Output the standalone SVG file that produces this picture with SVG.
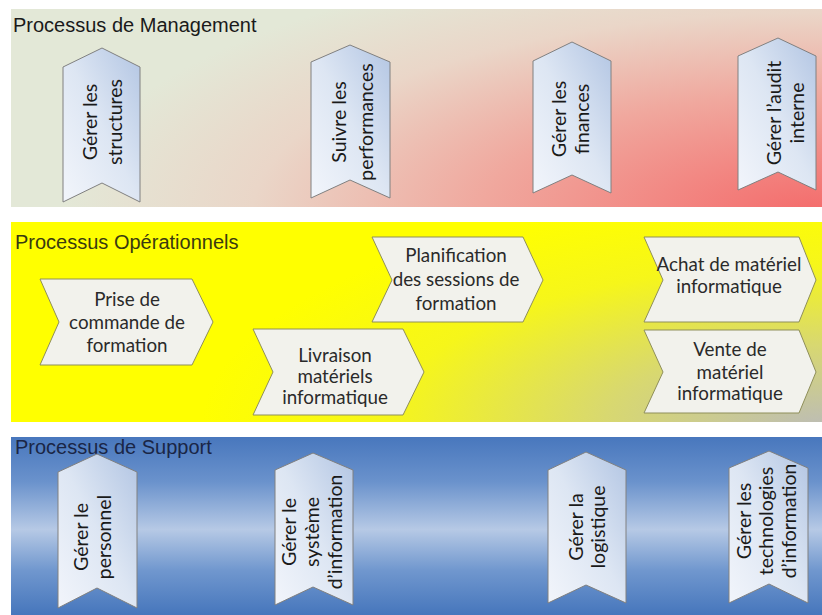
<svg xmlns="http://www.w3.org/2000/svg" width="822" height="615" viewBox="0 0 822 615">
<defs>
  <radialGradient id="gMgmt" gradientUnits="userSpaceOnUse" cx="0" cy="0" r="1" gradientTransform="translate(822 215) scale(760 270)">
    <stop offset="0" stop-color="#f46a6a"/>
    <stop offset="0.45" stop-color="#f0a89e"/>
    <stop offset="0.75" stop-color="#ead6c8"/>
    <stop offset="1" stop-color="#e3e8d7"/>
  </radialGradient>
  <radialGradient id="gOps" gradientUnits="userSpaceOnUse" cx="0" cy="0" r="1" gradientTransform="translate(822 425) scale(620 230)">
    <stop offset="0" stop-color="#bdbdb4"/>
    <stop offset="0.35" stop-color="#d8d870"/>
    <stop offset="0.7" stop-color="#f6f61a"/>
    <stop offset="1" stop-color="#ffff00"/>
  </radialGradient>
  <linearGradient id="gSup" x1="0" y1="0" x2="0" y2="1">
    <stop offset="0" stop-color="#4877bd"/>
    <stop offset="0.25" stop-color="#6a92cc"/>
    <stop offset="0.52" stop-color="#b6c9e5"/>
    <stop offset="0.75" stop-color="#7097ce"/>
    <stop offset="1" stop-color="#4676bc"/>
  </linearGradient>
  <linearGradient id="gChev" x1="0" y1="1" x2="1" y2="0">
    <stop offset="0" stop-color="#f2f5fb"/>
    <stop offset="0.5" stop-color="#dde6f3"/>
    <stop offset="1" stop-color="#b2c5e3"/>
  </linearGradient>
</defs>
<style>
  .title{font-family:"Liberation Sans",Arial,sans-serif;font-size:20px}
  .vchev{fill:url(#gChev);stroke:#808080;stroke-width:1}
  .hchev{fill:#f2f2ec;stroke:#8f8f5a;stroke-width:1}
  .vt{font-family:Lato,"Open Sans",sans-serif;font-size:19.5px;fill:#1a1a1a;text-anchor:middle}
  .ht{font-family:Lato,"Open Sans",sans-serif;font-size:18.8px;fill:#2a2a2a;text-anchor:middle}
</style>
<rect width="822" height="615" fill="#ffffff"/>

<g id="lane-management">
  <rect x="11" y="9" width="811" height="198" fill="url(#gMgmt)"/>
  <text class="title" x="13" y="32" fill="#1a1a1a">Processus de Management</text>
</g>
<g id="lane-operationnels">
  <rect x="11" y="222" width="811" height="200" fill="url(#gOps)"/>
  <text class="title" x="15" y="249" fill="#3a3a10">Processus Opérationnels</text>
</g>
<g id="lane-support">
  <rect x="11" y="437" width="811" height="178" fill="url(#gSup)"/>
  <text class="title" x="15" y="454" fill="#1a2646">Processus de Support</text>
</g>

<g id="m1">
  <polygon class="vchev" points="63,67 102,48 140,67 140,202 102,183 63,202"/>
  <g transform="translate(0 122) rotate(-90)"><text class="vt" x="0" y="97">Gérer les</text><text class="vt" x="0" y="122">structures</text></g>
</g>
<g id="m2">
  <polygon class="vchev" points="311,62 350,45 390,62 390,198 350,180 311,198"/>
  <g transform="translate(0 122) rotate(-90)"><text class="vt" x="0" y="346">Suivre les</text><text class="vt" x="0" y="373">performances</text></g>
</g>
<g id="m3">
  <polygon class="vchev" points="533,61 572,42 611,61 611,193 572,175 533,193"/>
  <g transform="translate(0 119) rotate(-90)"><text class="vt" x="0" y="566">Gérer les</text><text class="vt" x="0" y="589">finances</text></g>
</g>
<g id="m4">
  <polygon class="vchev" points="738,56 778,38 816,56 816,190 778,172 738,190"/>
  <g transform="translate(0 113) rotate(-90)"><text class="vt" x="0" y="781">Gérer l’audit</text><text class="vt" x="0" y="804">interne</text></g>
</g>

<g id="o1">
  <polygon class="hchev" points="40,279 192,279 213,322 192,365 40,365 59,322"/>
  <text class="ht" x="127" y="306">Prise de</text>
  <text class="ht" x="127" y="329">commande de</text>
  <text class="ht" x="127" y="352">formation</text>
</g>
<g id="o2">
  <polygon class="hchev" points="253,329 403,329 424,372 403,415 253,415 273,372"/>
  <text class="ht" x="335" y="362">Livraison</text>
  <text class="ht" x="335" y="383">matériels</text>
  <text class="ht" x="335" y="404">informatique</text>
</g>
<g id="o3">
  <polygon class="hchev" points="372,237 523,237 543,280 523,322 372,322 392,280"/>
  <text class="ht" x="456" y="262">Planification</text>
  <text class="ht" x="456" y="286">des sessions de</text>
  <text class="ht" x="456" y="310">formation</text>
</g>
<g id="o4">
  <polygon class="hchev" points="644,237 799,237 816,280 799,322 644,322 663,280"/>
  <text class="ht" x="729" y="271">Achat de matériel</text>
  <text class="ht" x="729" y="293">informatique</text>
</g>
<g id="o5">
  <polygon class="hchev" points="644,330 799,330 816,372 799,413 644,413 663,372"/>
  <text class="ht" x="730" y="356">Vente de</text>
  <text class="ht" x="730" y="379">matériel</text>
  <text class="ht" x="730" y="400">informatique</text>
</g>

<g id="s1">
  <polygon class="vchev" points="58,472 97,454 137,472 137,608 97,588 58,608"/>
  <g transform="translate(0 537) rotate(-90)"><text class="vt" x="0" y="88">Gérer le</text><text class="vt" x="0" y="111">personnel</text></g>
</g>
<g id="s2">
  <polygon class="vchev" points="275,470 313,453 353,470 353,605 313,587 275,605"/>
  <g transform="translate(0 532) rotate(-90)"><text class="vt" x="0" y="296">Gérer le</text><text class="vt" x="0" y="319">système</text><text class="vt" x="0" y="342">d’information</text></g>
</g>
<g id="s3">
  <polygon class="vchev" points="548,470 586,452 626,470 626,603 586,585 548,603"/>
  <g transform="translate(0 527) rotate(-90)"><text class="vt" x="0" y="583">Gérer la</text><text class="vt" x="0" y="605">logistique</text></g>
</g>
<g id="s4">
  <polygon class="vchev" points="729,468 769,451 808,468 808,603 769,584 729,603"/>
  <g transform="translate(0 521) rotate(-90)"><text class="vt" x="0" y="751">Gérer les</text><text class="vt" x="0" y="773">technologies</text><text class="vt" x="0" y="796">d’information</text></g>
</g>
</svg>
